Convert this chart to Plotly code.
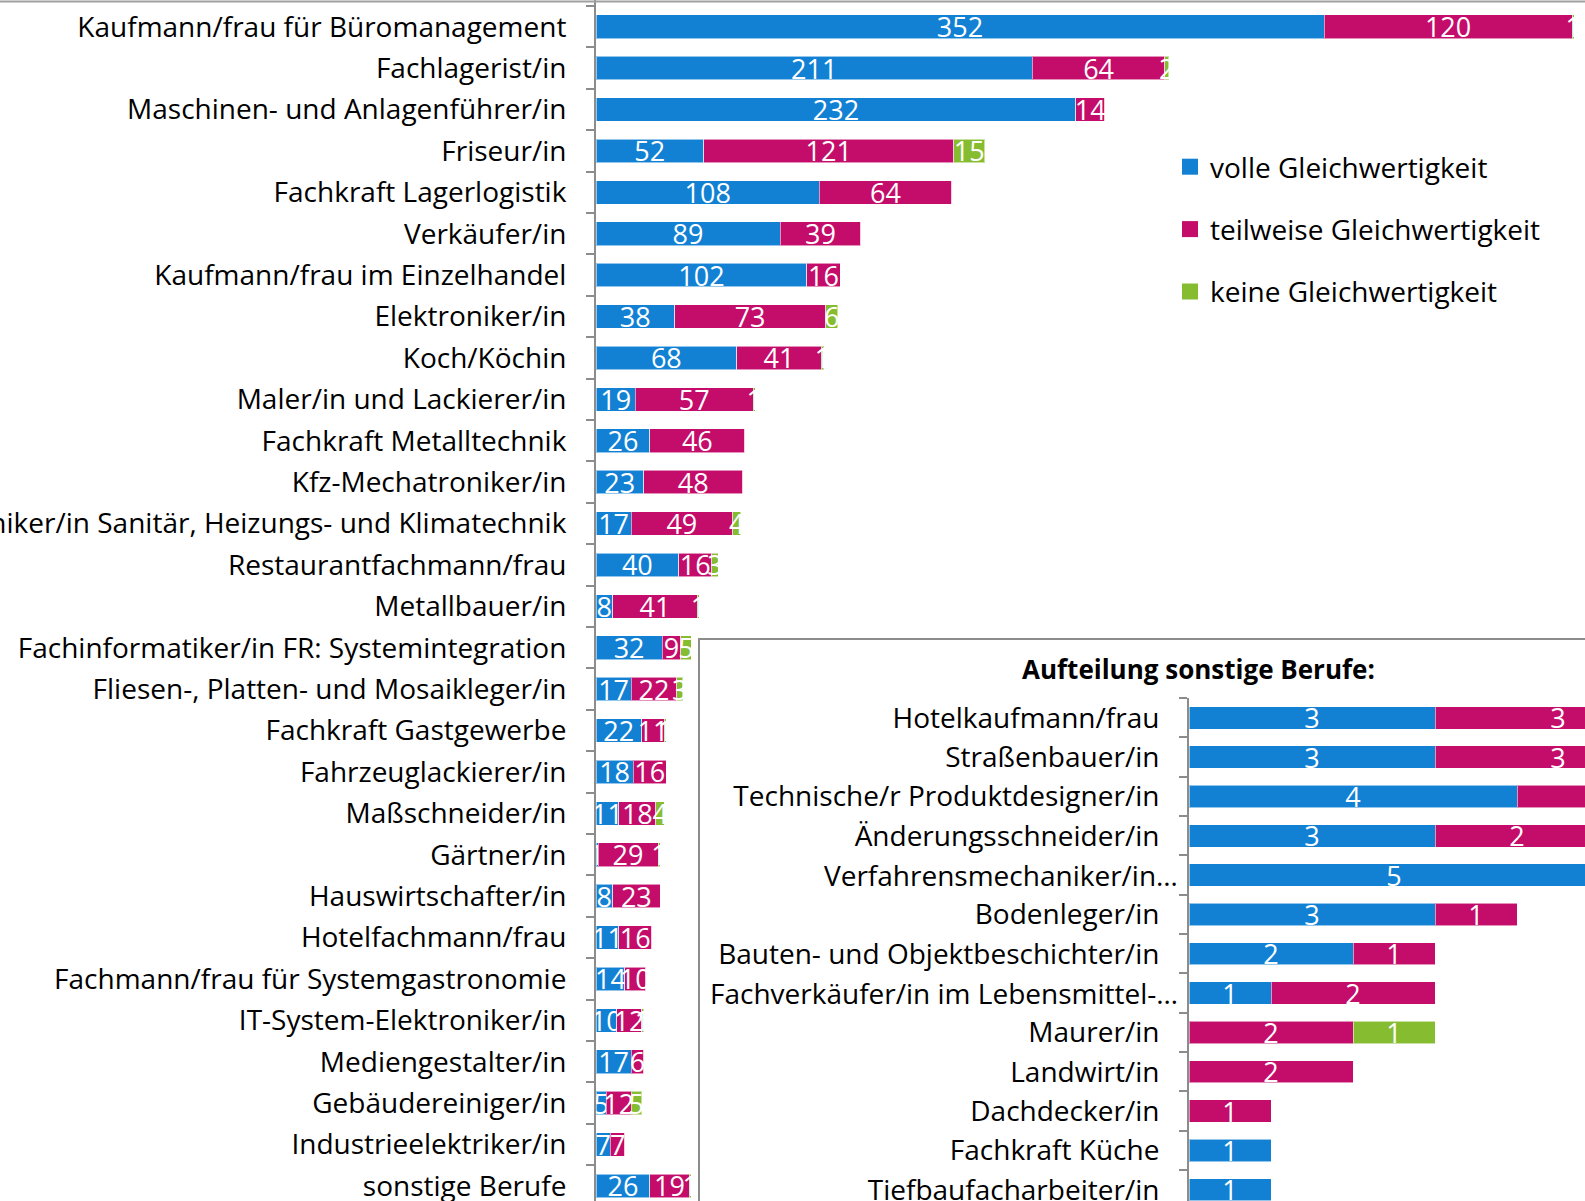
import plotly.graph_objects as go

# ---- main chart data ----
categories = [
    "Kaufmann/frau für Büromanagement",
    "Fachlagerist/in",
    "Maschinen- und Anlagenführer/in",
    "Friseur/in",
    "Fachkraft Lagerlogistik",
    "Verkäufer/in",
    "Kaufmann/frau im Einzelhandel",
    "Elektroniker/in",
    "Koch/Köchin",
    "Maler/in und Lackierer/in",
    "Fachkraft Metalltechnik",
    "Kfz-Mechatroniker/in",
    "Anlagenmechaniker/in Sanitär, Heizungs- und Klimatechnik",
    "Restaurantfachmann/frau",
    "Metallbauer/in",
    "Fachinformatiker/in FR: Systemintegration",
    "Fliesen-, Platten- und Mosaikleger/in",
    "Fachkraft Gastgewerbe",
    "Fahrzeuglackierer/in",
    "Maßschneider/in",
    "Gärtner/in",
    "Hauswirtschafter/in",
    "Hotelfachmann/frau",
    "Fachmann/frau für Systemgastronomie",
    "IT-System-Elektroniker/in",
    "Mediengestalter/in",
    "Gebäudereiniger/in",
    "Industrieelektriker/in",
    "sonstige Berufe",
]
volle = [352, 211, 232, 52, 108, 89, 102, 38, 68, 19, 26, 23, 17, 40, 8, 32, 17, 22, 18, 11, 1, 8, 11, 14, 10, 17, 5, 7, 26]
teilweise = [120, 64, 14, 121, 64, 39, 16, 73, 41, 57, 46, 48, 49, 16, 41, 9, 22, 11, 16, 18, 29, 23, 16, 10, 12, 6, 12, 7, 19]
keine = [1, 2, 0, 15, 0, 0, 0, 6, 1, 1, 0, 0, 4, 3, 1, 5, 3, 1, 0, 4, 1, 0, 0, 0, 1, 0, 5, 0, 1]

# ---- inset data ----
sonst_categories = [
    "Hotelkaufmann/frau",
    "Straßenbauer/in",
    "Technische/r Produktdesigner/in",
    "Änderungsschneider/in",
    "Verfahrensmechaniker/in…",
    "Bodenleger/in",
    "Bauten- und Objektbeschichter/in",
    "Fachverkäufer/in im Lebensmittel-…",
    "Maurer/in",
    "Landwirt/in",
    "Dachdecker/in",
    "Fachkraft Küche",
    "Tiefbaufacharbeiter/in",
]
sonst_volle = [3, 3, 4, 3, 5, 3, 2, 1, 0, 0, 0, 1, 1]
sonst_teilweise = [3, 3, 2, 2, 0, 1, 1, 2, 2, 2, 1, 0, 0]
sonst_keine = [0, 0, 0, 0, 0, 0, 0, 0, 1, 0, 0, 0, 0]

series_names = ["volle Gleichwertigkeit", "teilweise Gleichwertigkeit", "keine Gleichwertigkeit"]
colors = ["#1281D4", "#C40C6A", "#86BC30"]

W, H = 1585, 1201
FONT = "Open Sans"
LBL = 28


def lab(vals):
    return [str(v) if v else "" for v in vals]


fig = go.Figure()

for vals, name, col in zip([volle, teilweise, keine], series_names, colors):
    fig.add_trace(go.Bar(
        y=categories, x=vals, orientation="h", name=name,
        marker=dict(color=col, line=dict(color="rgba(255,255,255,0.55)", width=1)),
        text=lab(vals), textposition="inside", insidetextanchor="middle",
        textangle=0, constraintext="none",
        textfont=dict(family=FONT, size=27, color="white"),
        showlegend=False, xaxis="x", yaxis="y", hoverinfo="x+y+name",
    ))

for vals, name, col in zip([sonst_volle, sonst_teilweise, sonst_keine], series_names, colors):
    fig.add_trace(go.Bar(
        y=sonst_categories, x=vals, orientation="h", name=name,
        marker=dict(color=col, line=dict(color="rgba(255,255,255,0.55)", width=1)),
        text=lab(vals), textposition="inside", insidetextanchor="middle",
        textangle=0, constraintext="none",
        textfont=dict(family=FONT, size=27, color="white"),
        showlegend=False, xaxis="x2", yaxis="y2", hoverinfo="x+y+name",
    ))

# legend entries
for name, col in zip(series_names, colors):
    fig.add_trace(go.Scatter(
        x=[None], y=[None], mode="markers", name=name, legendgroup=name,
        marker=dict(symbol="square", size=16, color=col),
        xaxis="x", yaxis="y",
    ))

ax_x0 = 596
px_per_unit = 728 / 352
row0, row_step = 26.7, 41.4

in_x0 = 1189
in_px_unit = 82
in_top = 698
in_row0, in_step = 717.8, 39.33

yax_common = dict(type="category", showline=True, linecolor="#8C8C8C", linewidth=2,
                  ticks="outside", tickson="boundaries", ticklen=8, tickwidth=2, tickcolor="#8C8C8C",
                  ticklabelstandoff=22, showgrid=False, zeroline=False, automargin=False,
                  fixedrange=True, tickfont=dict(family=FONT, size=LBL, color="black"))

# truncated labels (ending with an ellipsis) overhang the label column, as in the original
inset_ticktext = ["" if c.endswith("…") else c for c in sonst_categories]
label_annotations = [
    dict(text=c, xref="paper", yref="y2", x=1180 / W, y=c, xanchor="right", yanchor="middle",
         showarrow=False, font=dict(family=FONT, size=LBL, color="black"))
    for c in sonst_categories if c.endswith("…")
]

fig.update_layout(
    template="none",
    width=W, height=H,
    margin=dict(l=0, r=0, t=0, b=0, pad=0, autoexpand=False),
    paper_bgcolor="white", plot_bgcolor="rgba(0,0,0,0)",
    barmode="stack", bargap=0.43,
    font=dict(family=FONT, size=LBL, color="black"),
    xaxis=dict(domain=[ax_x0 / W, 1], range=[0, (W - ax_x0) / px_per_unit],
               visible=False, fixedrange=True, automargin=False),
    yaxis=dict(domain=[0, 1],
               range=[28 + (H - (row0 + 28 * row_step)) / row_step, -row0 / row_step],
               **yax_common),
    xaxis2=dict(domain=[in_x0 / W, 1], range=[0, (W - in_x0) / in_px_unit],
                visible=False, anchor="y2", fixedrange=True, automargin=False),
    yaxis2=dict(domain=[0, 1 - in_top / H], anchor="x2",
                range=[12 + (H - (in_row0 + 12 * in_step)) / in_step, -(in_row0 - in_top) / in_step],
                tickmode="array", tickvals=sonst_categories, ticktext=inset_ticktext,
                **yax_common),
    legend=dict(x=1170 / W, y=1 - 142 / H, xanchor="left", yanchor="top",
                bgcolor="rgba(0,0,0,0)", traceorder="grouped", tracegroupgap=23,
                font=dict(family=FONT, size=28, color="black"), itemwidth=30),
    shapes=[
        dict(type="rect", xref="paper", yref="paper", x0=699 / W, x1=1.01, y0=-0.01, y1=1 - 639 / H,
             line=dict(color="#8C8C8C", width=2), fillcolor="white", layer="below"),
        dict(type="line", xref="paper", yref="paper", x0=0, x1=1, y0=1 - 1.5 / H, y1=1 - 1.5 / H,
             line=dict(color="#A0A0A0", width=2)),
    ],
    annotations=[
        dict(text="<b>Aufteilung sonstige Berufe:</b>", xref="paper", yref="paper",
             x=1198 / W, y=1 - 669 / H, xanchor="center", yanchor="middle", showarrow=False,
             font=dict(family=FONT, size=26, color="black")),
    ] + label_annotations,
)

fig.write_html("out.html", config={"displayModeBar": False, "staticPlot": False},
               post_script="document.body.style.margin='0';document.body.style.overflow='hidden';")
